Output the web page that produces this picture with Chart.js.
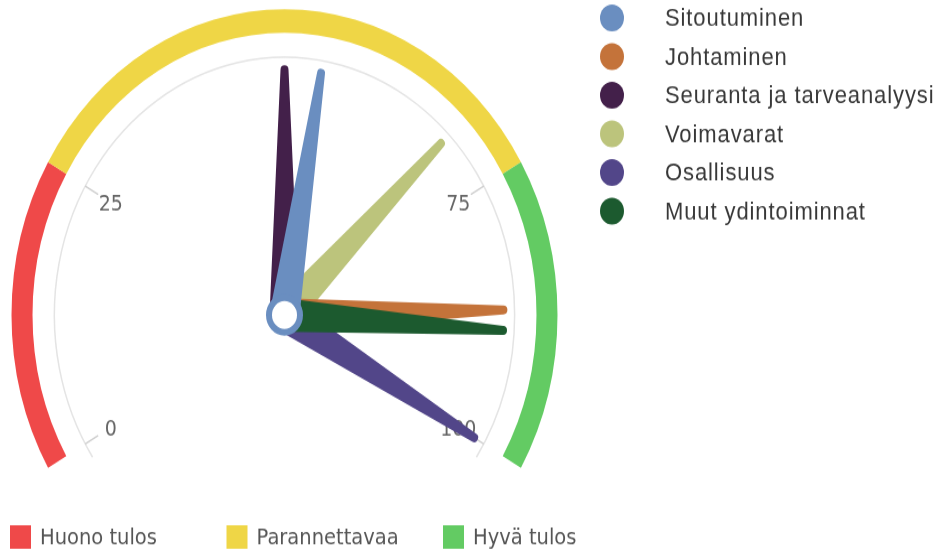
<!DOCTYPE html>
<html>
<head>
<meta charset="utf-8">
<script src="https://cdn.jsdelivr.net/npm/chart.js@4.4.1/dist/chart.umd.min.js"></script>
<style>
  html, body { margin: 0; padding: 0; background: #fff; }
  #gauge { display: block; }
</style>
</head>
<body>
<canvas id="gauge" width="944" height="492" style="width:944px;height:551px"></canvas>
<script>
// gauge scale
const gaugeMin = 0;
const gaugeMax = 100;
const tickValues = [0, 25, 75, 100];

// coloured bands
const bandLabels = ['Huono tulos', 'Parannettavaa', 'Hyvä tulos'];
const bandFrom = [0, 25, 75];
const bandTo = [25, 75, 100];
const bandColors = ['#ef4949', '#efd646', '#63cb63'];

// needles
const seriesNames = ['Sitoutuminen', 'Johtaminen', 'Seuranta ja tarveanalyysi', 'Voimavarat', 'Osallisuus', 'Muut ydintoiminnat'];
const seriesValues = [54, 87, 50, 69, 100, 89];
const seriesColors = ['#6a8ec0', '#c4733a', '#43204a', '#bcc47c', '#524689', '#1c5a2f'];
const drawOrder = [2, 3, 1, 4, 5, 0];

const gaugePlugin = {
    id: 'gauge',
    afterDatasetsDraw(chart) {
        const ctx = chart.ctx;
        const arcs = chart.getDatasetMeta(0).data;
        const first = arcs[0];
        const last = arcs[arcs.length - 1];
        const cx = first.x, cy = first.y, R = first.outerRadius;
        const a0 = first.startAngle, a1 = last.endAngle;
        const toAngle = v => a0 + (v - gaugeMin) / (gaugeMax - gaugeMin) * (a1 - a0);

        // axis line
        const axisR = R * 0.843;
        const extra = 3.5 * Math.PI / 180;
        ctx.save();
        ctx.strokeStyle = '#e4e4e4';
        ctx.lineWidth = 1.5;
        ctx.beginPath();
        ctx.arc(cx, cy, axisR, a0 - extra, a1 + extra);
        ctx.stroke();

        // ticks and labels
        ctx.strokeStyle = '#cfcfcf';
        ctx.fillStyle = '#666';
        ctx.font = '19px "DejaVu Sans"';
        ctx.textAlign = 'center';
        ctx.textBaseline = 'middle';
        tickValues.forEach(v => {
            const a = toAngle(v);
            ctx.beginPath();
            ctx.moveTo(cx + Math.cos(a) * axisR, cy + Math.sin(a) * axisR);
            ctx.lineTo(cx + Math.cos(a) * (axisR - 15), cy + Math.sin(a) * (axisR - 15));
            ctx.stroke();
            const lr = R * 0.735;
            ctx.fillText(String(v), cx + Math.cos(a) * lr, cy + Math.sin(a) * lr + 2);
        });

        // needles
        const len = R * 0.802;
        drawOrder.forEach(i => {
            const a = toAngle(seriesValues[i]);
            const ux = Math.cos(a), uy = Math.sin(a);
            const px = -uy, py = ux;
            const base = 15, top = 4;
            const tx = cx + ux * len, ty = cy + uy * len;
            ctx.fillStyle = seriesColors[i];
            ctx.beginPath();
            ctx.moveTo(cx + px * base, cy + py * base);
            ctx.lineTo(tx + px * top, ty + py * top);
            ctx.arc(tx, ty, top, a + Math.PI / 2, a - Math.PI / 2, true);
            ctx.lineTo(cx - px * base, cy - py * base);
            ctx.closePath();
            ctx.fill();
        });

        // pivot
        ctx.beginPath();
        ctx.arc(cx, cy, 15.5, 0, Math.PI * 2);
        ctx.fillStyle = '#fff';
        ctx.fill();
        ctx.lineWidth = 6;
        ctx.strokeStyle = seriesColors[0];
        ctx.stroke();
        ctx.restore();
    },
    afterDraw(chart) {
        const ctx = chart.ctx;
        ctx.save();
        ctx.textAlign = 'left';
        ctx.textBaseline = 'middle';

        // band legend at the bottom
        ctx.font = '19.5px "DejaVu Sans"';
        bandLabels.forEach((name, i) => {
            const x = 10 + i * 216.5;
            const y = 479.5;
            ctx.fillStyle = bandColors[i];
            ctx.fillRect(x, y - 10.5, 21, 21);
            ctx.fillStyle = '#555';
            ctx.fillText(name, x + 30, y + 1);
        });

        // needle legend on the right
        ctx.font = '22px "Liberation Sans"';
        ctx.letterSpacing = '0.9px';
        seriesNames.forEach((name, i) => {
            const y = 16 + i * 34.5;
            ctx.fillStyle = seriesColors[i];
            ctx.beginPath();
            ctx.arc(612, y, 12, 0, Math.PI * 2);
            ctx.fill();
            ctx.fillStyle = '#383838';
            ctx.fillText(name, 665, y + 1);
        });
        ctx.restore();
    }
};

new Chart(document.getElementById('gauge'), {
    type: 'doughnut',
    data: {
        labels: bandLabels,
        datasets: [{
            data: bandFrom.map((f, i) => bandTo[i] - f),
            backgroundColor: bandColors,
            borderWidth: 0
        }]
    },
    options: {
        responsive: false,
        devicePixelRatio: 1,
        animation: false,
        events: [],
        rotation: -120,
        circumference: 240,
        cutout: '92.3%',
        layout: {
            padding: { left: 11.5, right: 386.5, top: 8.25, bottom: 74.25 }
        },
        plugins: {
            legend: { display: false },
            tooltip: { enabled: false }
        }
    },
    plugins: [gaugePlugin]
});
</script>
</body>
</html>
